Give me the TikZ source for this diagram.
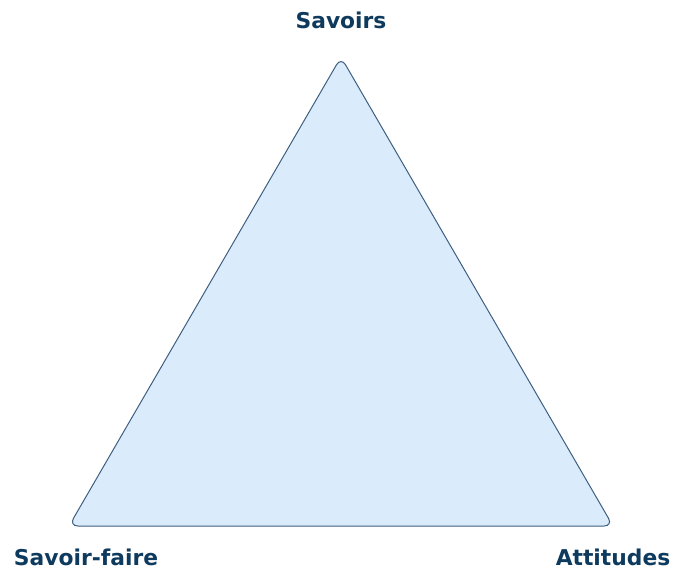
\documentclass[tikz,border=0pt]{standalone}
\usepackage{fontspec}
\setmainfont{DejaVu Sans}
\definecolor{labelblue}{HTML}{0E3A5E}
\definecolor{edgeblue}{HTML}{3E5F80}
\definecolor{fillblue}{HTML}{DAEBFC}
\begin{document}
\begin{tikzpicture}[x=1pt,y=-1pt,
    corner/.style={font=\bfseries\fontsize{21.8}{26}\selectfont, text=labelblue, inner sep=0pt, anchor=base}]
    \useasboundingbox (0,0) rectangle (675,571);

    \coordinate (top) at (341,57);
    \coordinate (left) at (69,526);
    \coordinate (right) at (613,526);
    \draw [color = edgeblue, fill = fillblue, line width=1pt, rounded corners=9pt, line join=round]
      (top) -- (right) -- (left) -- cycle;

    \node [corner] (savoirs) at (341,28) {Savoirs};
    \node [corner] (savoirfaire) at (86,565) {Savoir-faire};
    \node [corner] (attitudes) at (613,565) {Attitudes};
  \end{tikzpicture}
\end{document}
